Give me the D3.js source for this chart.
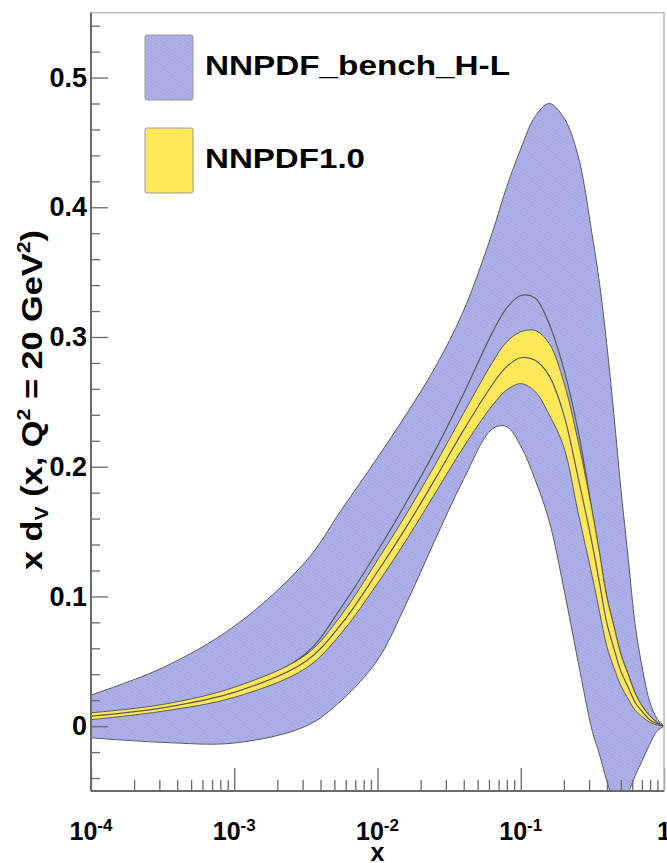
<!DOCTYPE html>
<html lang="en">
<head>
    <meta charset="UTF-8">
    <title>x dV band plot</title>
    <script src="https://cdn.jsdelivr.net/npm/d3@7/dist/d3.min.js"></script>
    <style>
        body { margin: 0; background: #fff; }
        text { font-family: "Liberation Sans", Arial, Helvetica, sans-serif; font-weight: bold; fill: #000; }
    </style>
</head>
<body>
<svg id="main" width="667" height="863"></svg>
<script>
    // x grid (momentum fraction)
    const xVals = [0.0001, 0.000316, 0.001, 0.00316, 0.00562, 0.01, 0.0158, 0.0251, 0.0398,
        0.0631, 0.0794, 0.1, 0.126, 0.158, 0.2, 0.251, 0.316, 0.355, 0.398, 0.447,
        0.501, 0.562, 0.631, 0.708, 0.794, 0.891, 1];

    // NNPDF_bench_H-L band
    const benchUpper = [0.024, 0.045, 0.077, 0.127, 0.167, 0.207, 0.24, 0.276, 0.32,
        0.38, 0.415, 0.445, 0.47, 0.48, 0.469, 0.44, 0.378, 0.341, 0.295, 0.24,
        0.182, 0.13, 0.077, 0.044, 0.019, 0.006, 0];
    const benchCentral = [0.009, 0.016, 0.028, 0.056, 0.092, 0.135, 0.172, 0.212, 0.256,
        0.303, 0.322, 0.332, 0.33, 0.31, 0.275, 0.228, 0.165, 0.133, 0.1, 0.077,
        0.055, 0.04, 0.025, 0.015, 0.008, 0.003, 0];
    const benchLower = [-0.009, -0.0125, -0.013, 0.0, 0.02, 0.051, 0.094, 0.143, 0.19,
        0.229, 0.231, 0.216, 0.19, 0.158, 0.106, 0.05, -0.004, -0.022, -0.042, -0.058,
        -0.066, -0.052, -0.038, -0.026, -0.014, -0.004, 0];

    // NNPDF1.0 band
    const nnUpper = [0.0103, 0.0167, 0.03, 0.055, 0.086, 0.128, 0.163, 0.201, 0.241,
        0.28, 0.296, 0.304, 0.305, 0.295, 0.265, 0.22, 0.165, 0.133, 0.1, 0.077,
        0.055, 0.04, 0.025, 0.015, 0.008, 0.003, 0];
    const nnCentral = [0.0077, 0.0141, 0.026, 0.05, 0.079, 0.119, 0.153, 0.19, 0.228,
        0.263, 0.277, 0.284, 0.282, 0.27, 0.24, 0.192, 0.14, 0.11, 0.08, 0.06,
        0.042, 0.03, 0.018, 0.011, 0.005, 0.002, 0];
    const nnLower = [0.005, 0.0115, 0.0222, 0.0446, 0.072, 0.11, 0.143, 0.179, 0.215,
        0.247, 0.259, 0.264, 0.258, 0.24, 0.215, 0.165, 0.115, 0.088, 0.062, 0.045,
        0.031, 0.021, 0.012, 0.007, 0.003, 0.001, 0];

    const yMajor = [0, 0.1, 0.2, 0.3, 0.4, 0.5];
    const xMajor = [1e-4, 1e-3, 1e-2, 1e-1, 1];
    const xMajorExp = ['-4', '-3', '-2', '-1', ''];
    const legendNames = ['NNPDF_bench_H-L', 'NNPDF1.0'];

    let svg = d3.select('svg#main');
    let padL = 91, padR = 664, padT = 12.7, padB = 791;

    let x = d3.scaleLog().domain([1e-4, 1]).range([padL, padR]);
    let y = d3.scaleLinear().domain([-0.05, 0.55]).range([padB, padT]);

    let blueFill = '#aeb1e8';
    let yellowFill = '#ffe75a';
    let edge = '#5a5a5a';

    // hatched fill for the bench band
    let defs = svg.append('defs');
    let pat = defs.append('pattern')
        .attr('id', 'hatch')
        .attr('patternUnits', 'userSpaceOnUse')
        .attr('width', 3).attr('height', 3)
        .attr('patternTransform', 'rotate(-60)');
    pat.append('rect').attr('width', 3).attr('height', 3).attr('fill', blueFill);
    pat.append('line').attr('x1', 0).attr('y1', 0).attr('x2', 0).attr('y2', 3)
        .attr('stroke', '#9da0df').attr('stroke-width', 1.2);

    defs.append('clipPath').attr('id', 'plotclip')
        .append('rect')
        .attr('x', padL).attr('y', padT)
        .attr('width', padR - padL).attr('height', padB - padT);

    let pts = xVals.map((v, i) => ({
        x: v,
        bu: benchUpper[i], bc: benchCentral[i], bl: benchLower[i],
        nu: nnUpper[i], nc: nnCentral[i], nl: nnLower[i]
    }));

    let curve = d3.curveCatmullRom.alpha(0.5);
    let plot = svg.append('g').attr('clip-path', 'url(#plotclip)');

    function band(lo, hi, fill) {
        plot.append('path')
            .datum(pts)
            .attr('d', d3.area().curve(curve)
                .x(d => x(d.x)).y0(d => y(d[lo])).y1(d => y(d[hi])))
            .attr('fill', fill)
            .attr('stroke', 'none');
        [lo, hi].forEach(k => {
            plot.append('path')
                .datum(pts)
                .attr('d', d3.line().curve(curve).x(d => x(d.x)).y(d => y(d[k])))
                .attr('fill', 'none')
                .attr('stroke', edge)
                .attr('stroke-width', 1);
        });
    }

    function centralLine(k) {
        plot.append('path')
            .datum(pts)
            .attr('d', d3.line().curve(curve).x(d => x(d.x)).y(d => y(d[k])))
            .attr('fill', 'none')
            .attr('stroke', edge)
            .attr('stroke-width', 1.2);
    }

    band('bl', 'bu', 'url(#hatch)');
    centralLine('bc');
    band('nl', 'nu', yellowFill);
    centralLine('nc');

    // axes
    let axisColor = '#6a6a6a';
    let yMinor = d3.range(-0.04, 0.551, 0.02).filter(v => !yMajor.some(m => Math.abs(m - v) < 1e-6));

    svg.append('g')
        .attr('transform', 'translate(' + padL + ',0)')
        .call(d3.axisLeft(y).tickValues(yMinor).tickSize(-9).tickFormat(''))
        .call(g => g.select('.domain').remove());

    let yAxis = svg.append('g')
        .attr('transform', 'translate(' + padL + ',0)')
        .call(d3.axisLeft(y).tickValues(yMajor).tickSizeInner(-17).tickSizeOuter(0)
            .tickPadding(4).tickFormat(d => d === 0 ? '0' : d3.format('.1f')(d)));
    yAxis.call(g => g.select('.domain').remove());
    yAxis.selectAll('text')
        .attr('font-size', 27)
        .attr('font-family', '"Liberation Sans", Arial, sans-serif')
        .attr('font-weight', 'bold');

    let xMinor = [];
    for (let e = -4; e < 0; e++) {
        for (let m = 2; m <= 9; m++) xMinor.push(m * Math.pow(10, e));
    }
    svg.append('g')
        .attr('transform', 'translate(0,' + padB + ')')
        .call(d3.axisBottom(x).tickValues(xMinor).tickSize(-11).tickFormat(''))
        .call(g => g.select('.domain').remove());
    svg.append('g')
        .attr('transform', 'translate(0,' + padB + ')')
        .call(d3.axisBottom(x).tickValues(xMajor).tickSize(-23).tickFormat(''))
        .call(g => g.select('.domain').remove());

    svg.selectAll('.tick line').attr('stroke', axisColor).attr('stroke-width', 1.3);

    // frame
    svg.append('rect')
        .attr('x', padL).attr('y', padT)
        .attr('width', padR - padL).attr('height', padB - padT)
        .attr('fill', 'none')
        .attr('stroke', '#bdbdbd').attr('stroke-width', 1.5);
    svg.append('line').attr('x1', padL).attr('x2', padL).attr('y1', padT).attr('y2', padB)
        .attr('stroke', axisColor).attr('stroke-width', 2);
    svg.append('line').attr('x1', padL).attr('x2', padR).attr('y1', padB).attr('y2', padB)
        .attr('stroke', axisColor).attr('stroke-width', 2);

    // x tick labels 10^n
    xMajor.forEach((v, i) => {
        let t = svg.append('text')
            .attr('x', x(v))
            .attr('y', 840)
            .attr('text-anchor', 'middle')
            .attr('font-size', 25);
        t.append('tspan').text(i === xMajor.length - 1 ? '1' : '10');
        if (xMajorExp[i]) {
            t.append('tspan').attr('font-size', 17).attr('dy', -9).text(xMajorExp[i]);
        }
    });

    // axis titles
    svg.append('text')
        .attr('x', x(0.01))
        .attr('y', 861)
        .attr('text-anchor', 'middle')
        .attr('font-size', 25)
        .text('x');

    let yt = svg.append('text')
        .attr('transform', 'translate(42,400) rotate(-90)')
        .attr('text-anchor', 'middle')
        .attr('font-size', 29)
        .attr('textLength', 340)
        .attr('lengthAdjust', 'spacingAndGlyphs');
    yt.append('tspan').text('x d');
    yt.append('tspan').attr('font-size', 18).attr('dy', 6).text('V');
    yt.append('tspan').attr('dy', -6).text(' (x, Q');
    yt.append('tspan').attr('font-size', 18).attr('dy', -12).text('2');
    yt.append('tspan').attr('dy', 12).text(' = 20 GeV');
    yt.append('tspan').attr('font-size', 18).attr('dy', -12).text('2');
    yt.append('tspan').attr('dy', 12).text(')');

    // legend
    let legFills = ['url(#hatch)', yellowFill];
    let legTextLen = [305, 160];
    let lineLegend = svg.selectAll('.lineLegend').data(legendNames)
        .enter().append('g')
        .attr('class', 'lineLegend')
        .attr('transform', (d, i) => 'translate(145,' + (35 + i * 93) + ')');

    lineLegend.append('rect')
        .attr('width', 48).attr('height', 65)
        .attr('rx', 2)
        .attr('fill', (d, i) => legFills[i])
        .attr('stroke', '#9a9a9a').attr('stroke-width', 1);

    lineLegend.append('text')
        .attr('x', 60).attr('y', 40)
        .attr('font-size', 28)
        .attr('textLength', (d, i) => legTextLen[i])
        .attr('lengthAdjust', 'spacingAndGlyphs')
        .text(d => d);
</script>
</body>
</html>
